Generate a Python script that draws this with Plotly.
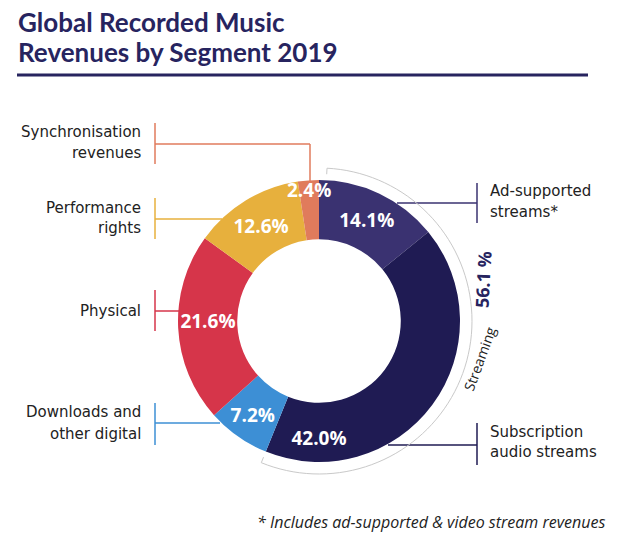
import math
import plotly.graph_objects as go

# ---- data ----
segments = ["Ad-supported streams*", "Subscription audio streams", "Downloads and other digital",
            "Physical", "Performance rights", "Synchronisation revenues"]
shares = [14.1, 42.0, 7.2, 21.6, 12.6, 2.4]
colors = ["#3a3271", "#1f1b53", "#3d8fd5", "#d6354a", "#e7b03d", "#e07b5c"]
title_lines = ["Global Recorded Music", "Revenues by Segment 2019"]
footnote = "* Includes ad-supported &amp; video stream revenues"
streaming_share = shares[0] + shares[1]

W, H = 640, 551
CX, CY, R = 319, 321, 141  # pixel geometry of the donut


def px(x):
    return x / W


def py(y):
    return 1 - y / H


fig = go.Figure(go.Pie(
    labels=segments, values=shares, sort=False, direction="clockwise", rotation=0,
    hole=0.58, marker=dict(colors=colors, line=dict(width=0)),
    texttemplate="%{value:.1f}%", textposition="inside", insidetextorientation="horizontal",
    textfont=dict(family="Open Sans", size=19, color="white", weight=700),
    domain=dict(x=[px(CX - R), px(CX + R)], y=[py(CY + R), py(CY - R)]),
    showlegend=False, hoverinfo="label+value",
))

shapes = []
annotations = []

# title + rule
for line, ty in zip(title_lines, [22, 52]):
    annotations.append(dict(text=f"<b>{line}</b>", x=px(16), y=py(ty), xref="paper", yref="paper",
                            xanchor="left", yanchor="middle", showarrow=False,
                            font=dict(family="Lato", size=26, color="#27245f", weight=900)))
shapes.append(dict(type="line", xref="paper", yref="paper", x0=px(17), x1=px(588), y0=py(75), y1=py(75),
                   line=dict(color="#27245f", width=3)))

# leader labels
leaders = [
    (["Synchronisation", "revenues"], 143, "right", [132, 153], 155, 123, 164, 144, 310, colors[5], 183),
    (["Performance", "rights"], 143, "right", [208, 228], 155, 198, 239, 219, 222, colors[4], None),
    (["Physical"], 143, "right", [311], 155, 290, 331, 311, 179, colors[3], None),
    (["Downloads and", "other digital"], 143, "right", [412, 434], 155, 403, 445, 423, 220, colors[2], None),
    (["Ad-supported", "streams*"], 488, "left", [191, 212], 477, 183, 223, 203, 397, colors[0], None),
    (["Subscription", "audio streams"], 488, "left", [432, 452], 477, 423, 465, 445, 388, colors[1], None),
]
for lines, tx, anc, tys, bx, by0, by1, hy, rx, col, drop in leaders:
    for line, ty in zip(lines, tys):
        annotations.append(dict(text=line, x=px(tx), y=py(ty), xref="paper", yref="paper",
                                xanchor=anc, yanchor="middle", showarrow=False,
                                font=dict(family="DejaVu Sans", size=15, color="#222222")))
    shapes.append(dict(type="line", xref="paper", yref="paper", x0=px(bx), x1=px(bx), y0=py(by0), y1=py(by1),
                       line=dict(color=col, width=1.5)))
    shapes.append(dict(type="line", xref="paper", yref="paper", x0=px(bx), x1=px(rx), y0=py(hy), y1=py(hy),
                       line=dict(color=col, width=1.5)))
    if drop is not None:
        shapes.append(dict(type="line", xref="paper", yref="paper", x0=px(rx), x1=px(rx), y0=py(hy), y1=py(drop),
                           line=dict(color=col, width=1.5)))

# streaming arc
RA = 153
end_deg = 360 * streaming_share / sum(shares)
pts = []
n = 80
for i in range(n + 1):
    a = math.radians(3 + (end_deg - 3) * i / n)
    pts.append((CX + RA * math.sin(a), CY - RA * math.cos(a)))
a0 = math.radians(3)
a1 = math.radians(end_deg)
tick0 = (CX + (RA - 6) * math.sin(a0), CY - (RA - 6) * math.cos(a0))
tick1 = (CX + (RA - 6) * math.sin(a1), CY - (RA - 6) * math.cos(a1))
path = f"M {px(tick0[0])},{py(tick0[1])} " + " ".join(f"L {px(x)},{py(y)}" for x, y in pts) + \
       f" L {px(tick1[0])},{py(tick1[1])}"
shapes.append(dict(type="path", xref="paper", yref="paper", path=path, line=dict(color="#c9c9c9", width=1)))

annotations.append(dict(text="Streaming", x=px(479), y=py(359), xref="paper", yref="paper",
                        xanchor="center", yanchor="middle", showarrow=False, textangle=-70,
                        font=dict(family="Open Sans", size=14, color="#222222")))
annotations.append(dict(text=f"<b>{streaming_share:.1f} %</b>", x=px(483), y=py(280), xref="paper", yref="paper",
                        xanchor="center", yanchor="middle", showarrow=False, textangle=-87,
                        font=dict(family="Open Sans", size=18, color="#27245f")))

# footnote
annotations.append(dict(text=f"<i>{footnote}</i>", x=px(607), y=py(522),
                        xref="paper", yref="paper", xanchor="right", yanchor="middle", showarrow=False,
                        font=dict(family="Open Sans", size=16, color="#222222")))

fig.update_layout(width=W, height=H, margin=dict(l=0, r=0, t=0, b=0), paper_bgcolor="white",
                  plot_bgcolor="white", shapes=shapes, annotations=annotations,
                  uniformtext=dict(minsize=19, mode="show"))
fig.write_html("out.html")
